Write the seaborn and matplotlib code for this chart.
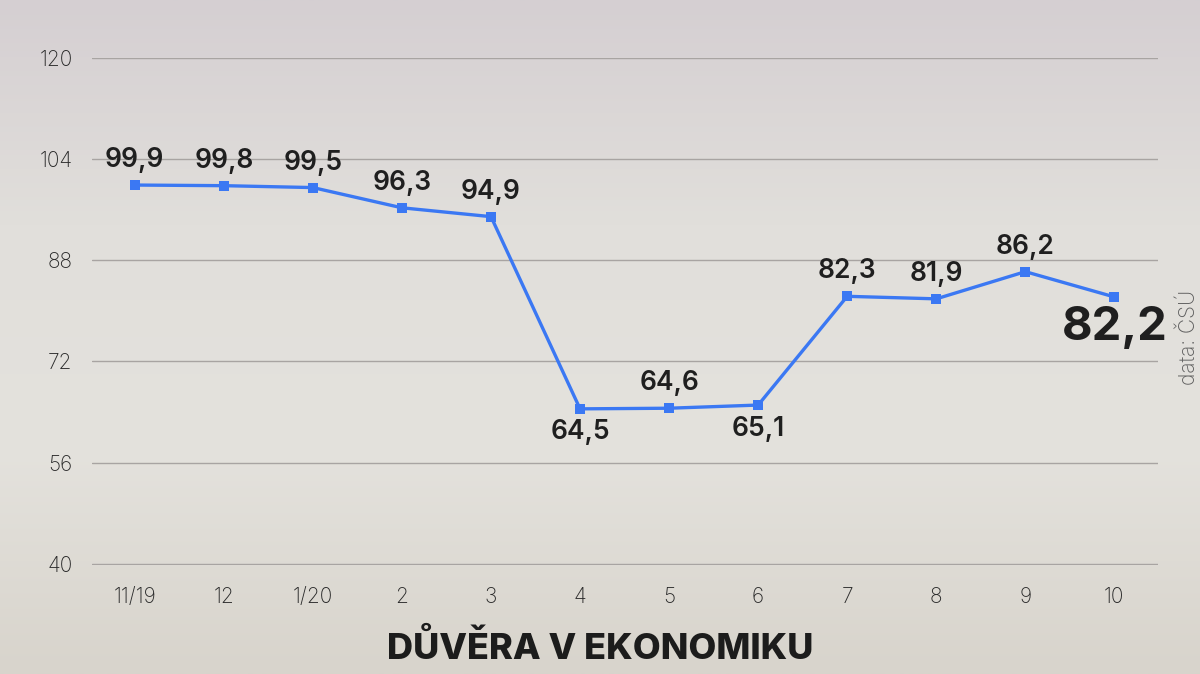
import numpy as np
import pandas as pd
import matplotlib.pyplot as plt
import seaborn as sns
from matplotlib.colors import LinearSegmentedColormap

# data
months = ['11/19', '12', '1/20', '2', '3', '4', '5', '6', '7', '8', '9', '10']
values = [99.9, 99.8, 99.5, 96.3, 94.9, 64.5, 64.6, 65.1, 82.3, 81.9, 86.2, 82.2]
label_below = [False, False, False, False, False, True, False, True, False, False, False, True]
y_ticks = [40, 56, 72, 88, 104, 120]

df = pd.DataFrame({'idx': range(len(months)), 'value': values})

sns.set_theme(style='white')
plt.rcParams['font.family'] = ['Inter', 'DejaVu Sans']

fig = plt.figure(figsize=(12, 6.74), dpi=100)

# soft background gradient
bg = fig.add_axes([0, 0, 1, 1], zorder=-10)
grad = np.linspace(0, 1, 256)[:, None]
cmap = LinearSegmentedColormap.from_list('bg', ['#d5cfd2', '#e1dfdb', '#e4e2dd', '#d8d4cc'])
bg.imshow(grad, aspect='auto', cmap=cmap, extent=[0, 1, 0, 1])
bg.axis('off')

ax = fig.add_axes([0.0767, 0.1617, 0.8883, 0.7523])
ax.patch.set_alpha(0)

sns.lineplot(data=df, x='idx', y='value', ax=ax, color='#3b78f3', linewidth=2.4,
             marker='s', markersize=7, markeredgewidth=0)

ax.set_ylim(39.8, 120)
ax.set_xlim(-0.48, 11.49)
ax.set_yticks(y_ticks)
ax.set_yticklabels([str(t) for t in y_ticks])
ax.set_xticks(range(len(months)))
ax.set_xticklabels(months)
ax.tick_params(axis='both', length=0, labelsize=15, labelcolor='#2a2a2a')
ax.tick_params(axis='x', pad=16)
ax.tick_params(axis='y', pad=14)
for lbl in ax.get_xticklabels() + ax.get_yticklabels():
    lbl.set_fontweight('light')
ax.grid(axis='y', color='#a8a4a2', linewidth=1)
for s in ax.spines.values():
    s.set_visible(False)
ax.set_xlabel('')
ax.set_ylabel('')

for i, (v, below) in enumerate(zip(values, label_below)):
    txt = f'{v:.1f}'.replace('.', ',')
    if i == len(values) - 1:
        ax.annotate(txt, (i, v), xytext=(0, -22), textcoords='offset points',
                    ha='center', va='center', fontsize=34, fontweight='bold', color='#1f1f1f')
    elif below:
        ax.annotate(txt, (i, v), xytext=(0, -17), textcoords='offset points',
                    ha='center', va='center', fontsize=19, fontweight='semibold', color='#1f1f1f')
    else:
        ax.annotate(txt, (i, v), xytext=(0, 18), textcoords='offset points',
                    ha='center', va='center', fontsize=19, fontweight='semibold', color='#1f1f1f')

fig.text(0.5, 0.038, 'DŮVĚRA V EKONOMIKU', ha='center', va='center',
         fontsize=26, fontweight='heavy', color='#1c1c1c')
fig.text(0.99, 0.50, 'data: ČSÚ', ha='center', va='center', rotation=90,
         fontsize=15, color='#5e5e5e', fontweight='light')

fig.savefig('out.png', dpi=100)
